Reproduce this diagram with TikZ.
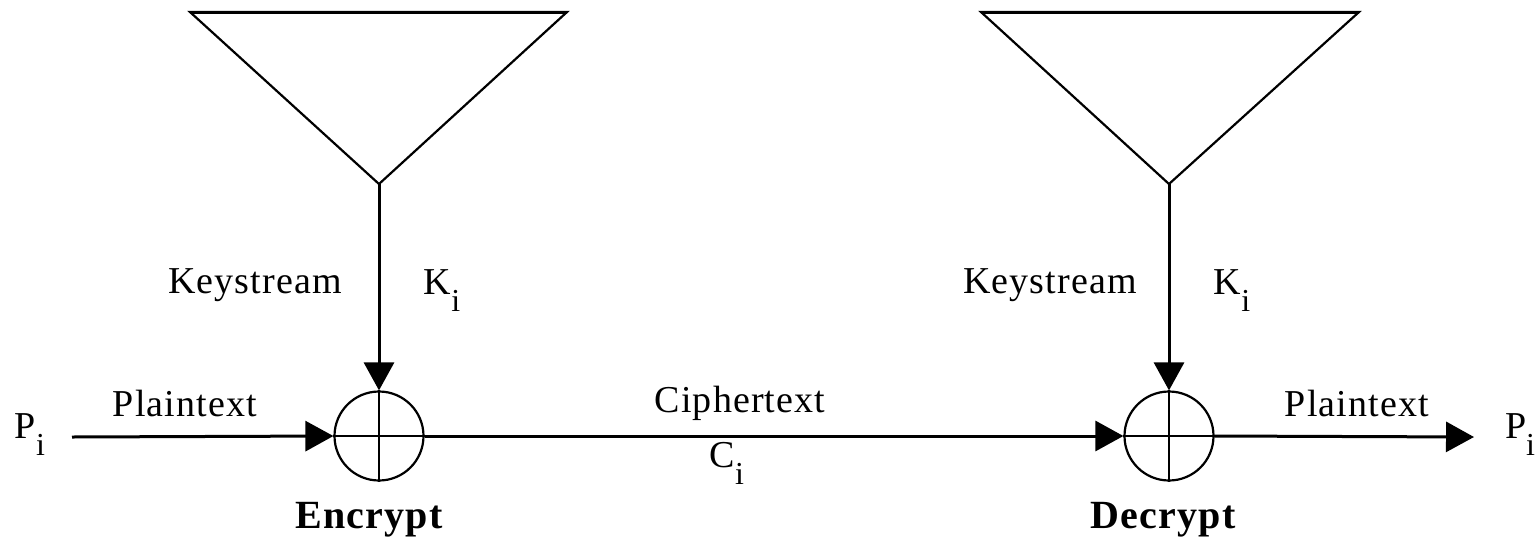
\documentclass[tikz,border=0pt]{standalone}
\usepackage{fontspec}
\setmainfont{Liberation Serif}
\usetikzlibrary{arrows.meta}
\newcommand{\sbi}{\raisebox{-0.45em}{\fontsize{32}{34}\selectfont i}}
\tikzset{
  lbl/.style={font=\fontsize{38}{42}\selectfont\addfontfeature{LetterSpace=3}, inner sep=0pt},
  blbl/.style={font=\fontsize{40}{44}\selectfont\bfseries\addfontfeature{LetterSpace=3}, inner sep=0pt},
  xorc/.style={circle, draw, line width=2.2pt, minimum size=89pt, inner sep=0pt},
  conn/.style={line width=3pt, -{Triangle[length=28pt,width=30pt]}},
  tri/.style={line width=2.2pt, line join=miter},
}
\begin{document}
\begin{tikzpicture}[x=1pt,y=-1pt]
\useasboundingbox (0,0) rectangle (1537,539);
% XOR circles
\node[xorc] (enc) at (379,436) {};
\node[xorc] (dec) at (1169,436) {};
\draw[line width=2.5pt] (enc.north) -- (enc.south) (enc.west) -- (enc.east);
\draw[line width=2.5pt] (dec.north) -- (dec.south) (dec.west) -- (dec.east);
% keystream generators
\coordinate (t1a) at (190,12); \coordinate (t1b) at (567,12); \coordinate (t1c) at (379,184);
\coordinate (t2a) at (981,12); \coordinate (t2b) at (1359,12); \coordinate (t2c) at (1169,184);
\draw[tri] (t1a) -- (t1b) -- (t1c) -- cycle;
\draw[tri] (t2a) -- (t2b) -- (t2c) -- cycle;
\draw[line width=3pt] (t1a) -- (t1b);
\draw[line width=3pt] (t2a) -- (t2b);
% endpoints
\coordinate (pin) at (72,437);
\coordinate (pout) at (1474,437);
% connectors
\draw[conn] (t1c) -- (enc.north);
\draw[conn] (t2c) -- (dec.north);
\draw[conn] (pin) -- (enc.west);
\draw[conn] (enc.east) -- (dec.west);
\draw[conn] (dec.east) -- (pout);
% labels
\node[lbl] (p1) at (30,435) {P\sbi};
\node[lbl] (pl1) at (185,403) {Plaintext};
\node[lbl] (ks1) at (255,285) {Keystream};
\node[lbl] (k1) at (442,291) {K\sbi};
\node[lbl] (ct) at (740,403) {Ciphertext};
\node[lbl] (c1) at (727,463) {C\sbi};
\node[blbl] (enl) at (369,520) {Encrypt};
\node[lbl] (ks2) at (1050,285) {Keystream};
\node[lbl] (k2) at (1232,291) {K\sbi};
\node[lbl] (pl2) at (1357,403) {Plaintext};
\node[lbl] (p2) at (1520,435) {P\sbi};
\node[blbl] (del) at (1163,520) {Decrypt};
\end{tikzpicture}
\end{document}
